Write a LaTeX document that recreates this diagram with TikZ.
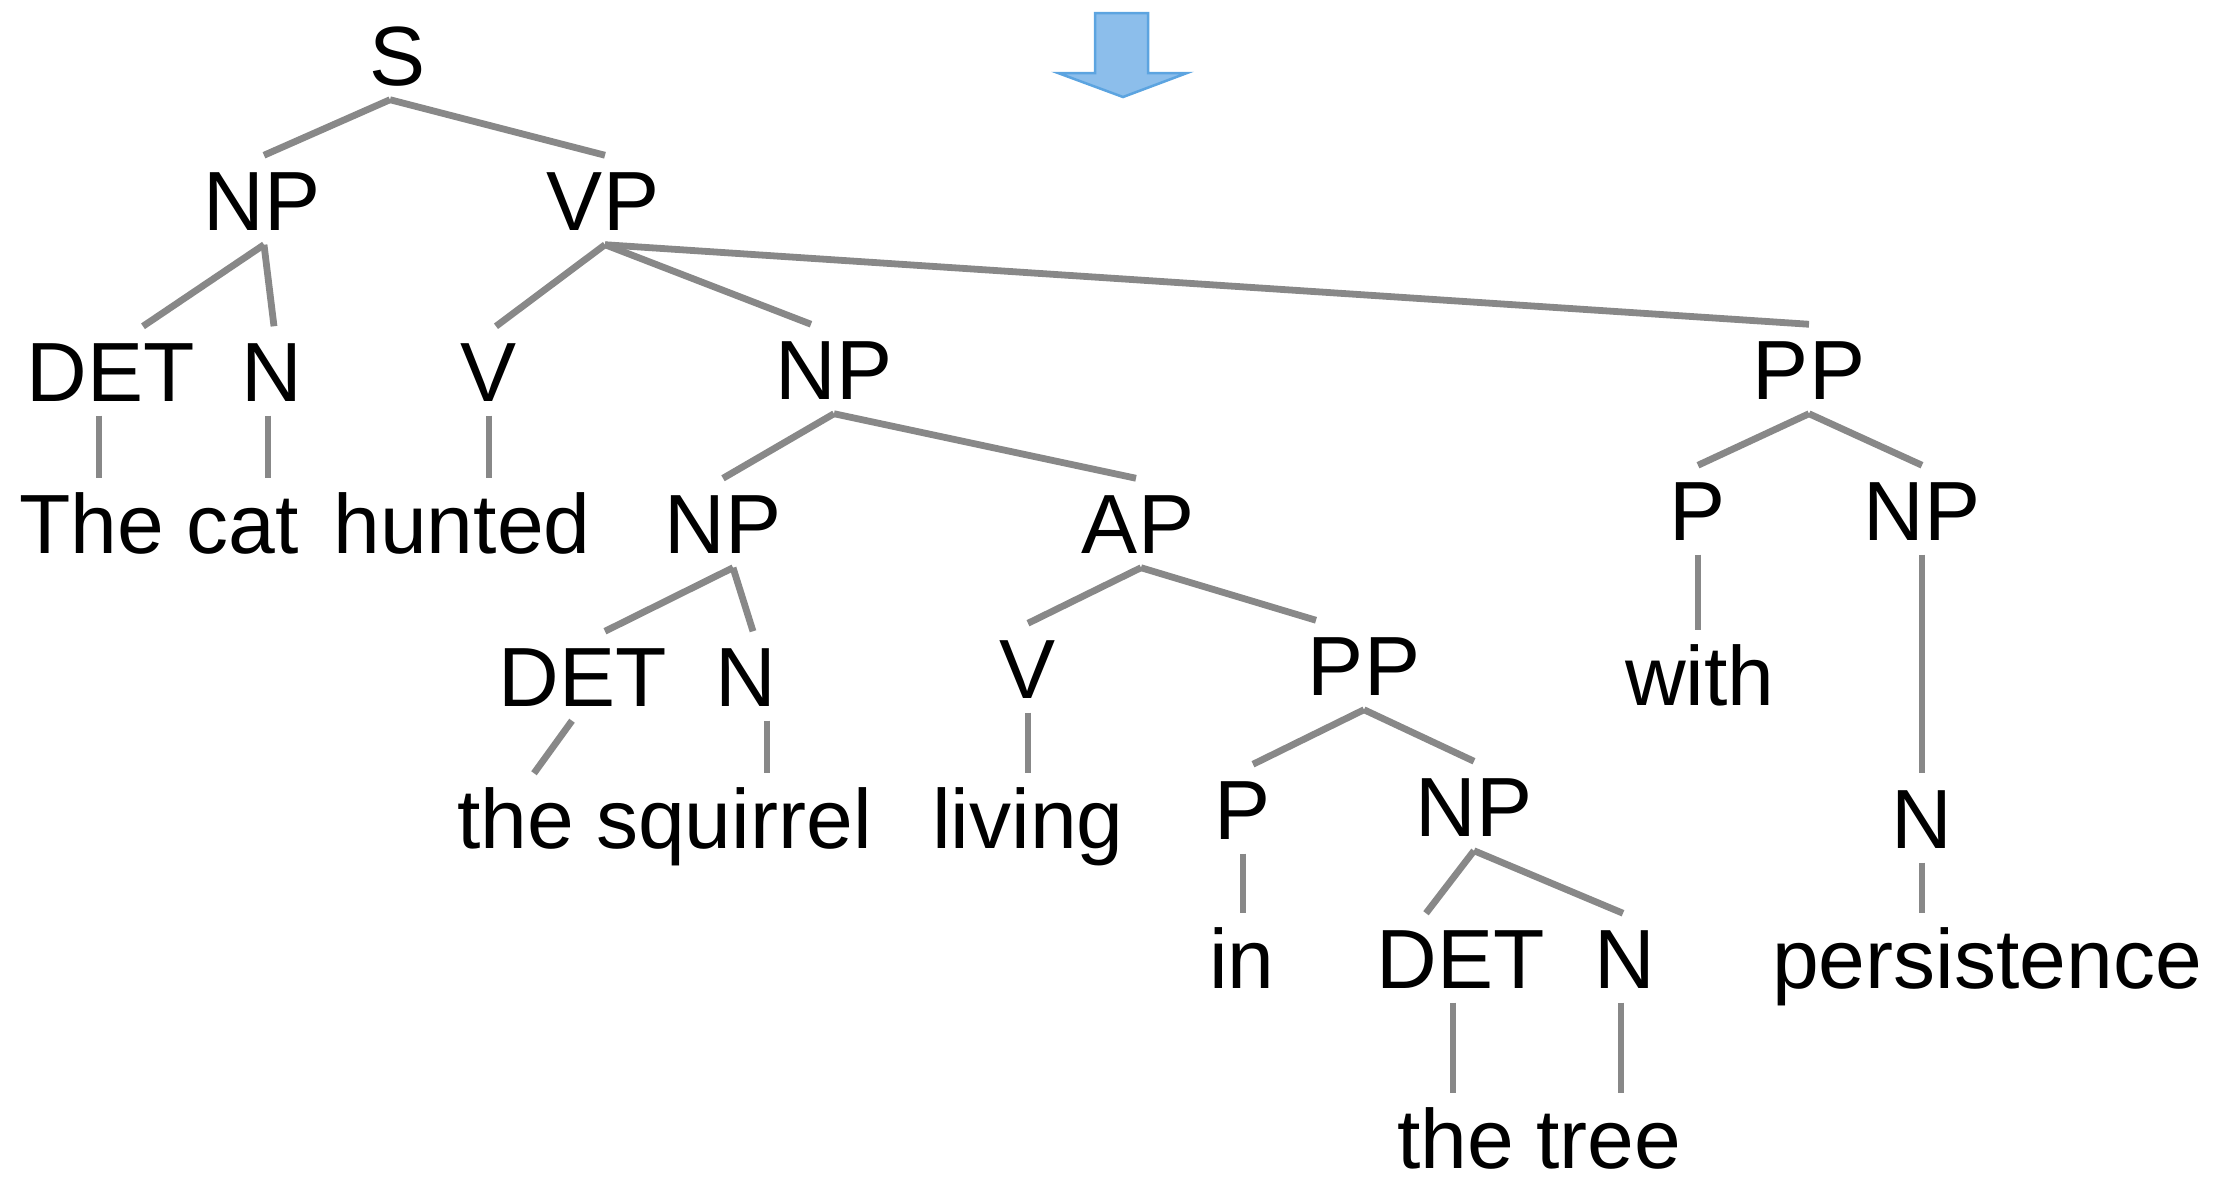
\documentclass[tikz,border=0pt]{standalone}
\usepackage{fontspec}
\setmainfont{Liberation Sans}
\usepackage{tikz}
\usetikzlibrary{calc}
\definecolor{linegray}{RGB}{136,136,136}
\definecolor{arrowfill}{RGB}{140,190,235}
\definecolor{arrowline}{RGB}{92,164,224}
\tikzset{
	cat/.style={
		anchor = base,
		text height = 0.6cm,
		text depth = 0cm,
		inner xsep = 0cm,
		inner ysep = 0.14cm
	},
	branch/.style={
		draw = linegray,
		line width = 0.068cm
	},
}

\begin{document}
\begin{tikzpicture}[x=0.01cm, y=-0.01cm, font=\fontsize{23.9}{28}\selectfont]
    \useasboundingbox (0,0) rectangle (2223,1178);
    % the down arrow
    \draw[arrowline, fill=arrowfill, line width=0.025cm, line join=miter]
      (1095,13) -- (1148,13) -- (1148,73) -- (1187,73) -- (1123,97)
      -- (1058,73) -- (1095,73) -- cycle;
    % categories
    \node[cat] (s) at (398,85) {S};
    \node[cat] (np1) at (262,230) {NP};
    \node[cat] (vp) at (603,230) {VP};
    \node[cat] (det1) at (111,401) {DET};
    \node[cat] (n1) at (272,401) {N};
    \node[cat] (v1) at (489,401) {V};
    \node[cat] (np2) at (834,399) {NP};
    \node[cat] (pp1) at (1809,399) {PP};
    \node[cat] (np3) at (723,553) {NP};
    \node[cat] (ap) at (1138,553) {AP};
    \node[cat] (p1) at (1698,540) {P};
    \node[cat] (np4) at (1922,540) {NP};
    \node[cat] (det2) at (583,706) {DET};
    \node[cat] (n2) at (746,706) {N};
    \node[cat] (v2) at (1028,698) {V};
    \node[cat] (pp2) at (1364,695) {PP};
    \node[cat] (p2) at (1243,839) {P};
    \node[cat] (np5) at (1474,836) {NP};
    \node[cat] (n4) at (1922,848) {N};
    \node[cat] (det3) at (1461,988) {DET};
    \node[cat] (n3) at (1625,988) {N};
    % words
    \node[cat] (the1) at (92,553) {The};
    \node[cat] (cat1) at (243,553) {cat};
    \node[cat] (hunted) at (462,553) {hunted};
    \node[cat] (with) at (1700,705) {with};
    \node[cat] (the2) at (516,848) {the};
    \node[cat] (squirrel) at (734,848) {squirrel};
    \node[cat] (living) at (1028,848) {living};
    \node[cat] (in) at (1242,988) {in};
    \node[cat] (persistence) at (1987,988) {persistence};
    \node[cat] (the3) at (1456,1168) {the};
    \node[cat] (tree) at (1609,1168) {tree};
    % branches (x offsets at parent and child end)
    \foreach \a/\b/\p/\c in {s/np1/-8/2, s/vp/-8/2, np1/det1/2/32, np1/n1/2/2,
      vp/v1/2/7, vp/np2/2/-23, vp/pp1/2/0, np2/np3/0/0, np2/ap/0/-2,
      pp1/p1/0/0, pp1/np4/0/0, np3/det2/10/22, np3/n2/10/7, ap/v2/3/0,
      ap/pp2/3/-48, pp2/p2/0/10, pp2/np5/0/0, np5/det3/0/-35, np5/n3/0/-2,
      det2/the2/-11/18}{
      \draw[branch] ($(\a.south)+(\p,0)$) -- ($(\b.north)+(\c,0)$);
    }
    % straight drops
    \foreach \a/\b/\d in {det1/the1/-12, n1/cat1/-4, v1/hunted/0, p1/with/0,
      n2/squirrel/21, v2/living/0, np4/n4/0, n4/persistence/0, p2/in/0,
      det3/the3/-8, n3/tree/-4}{
      \draw[branch] ($(\a.south)+(\d,0)$) -- ($(\a.south |- \b.north)+(\d,0)$);
    }
  \end{tikzpicture}
\end{document}
